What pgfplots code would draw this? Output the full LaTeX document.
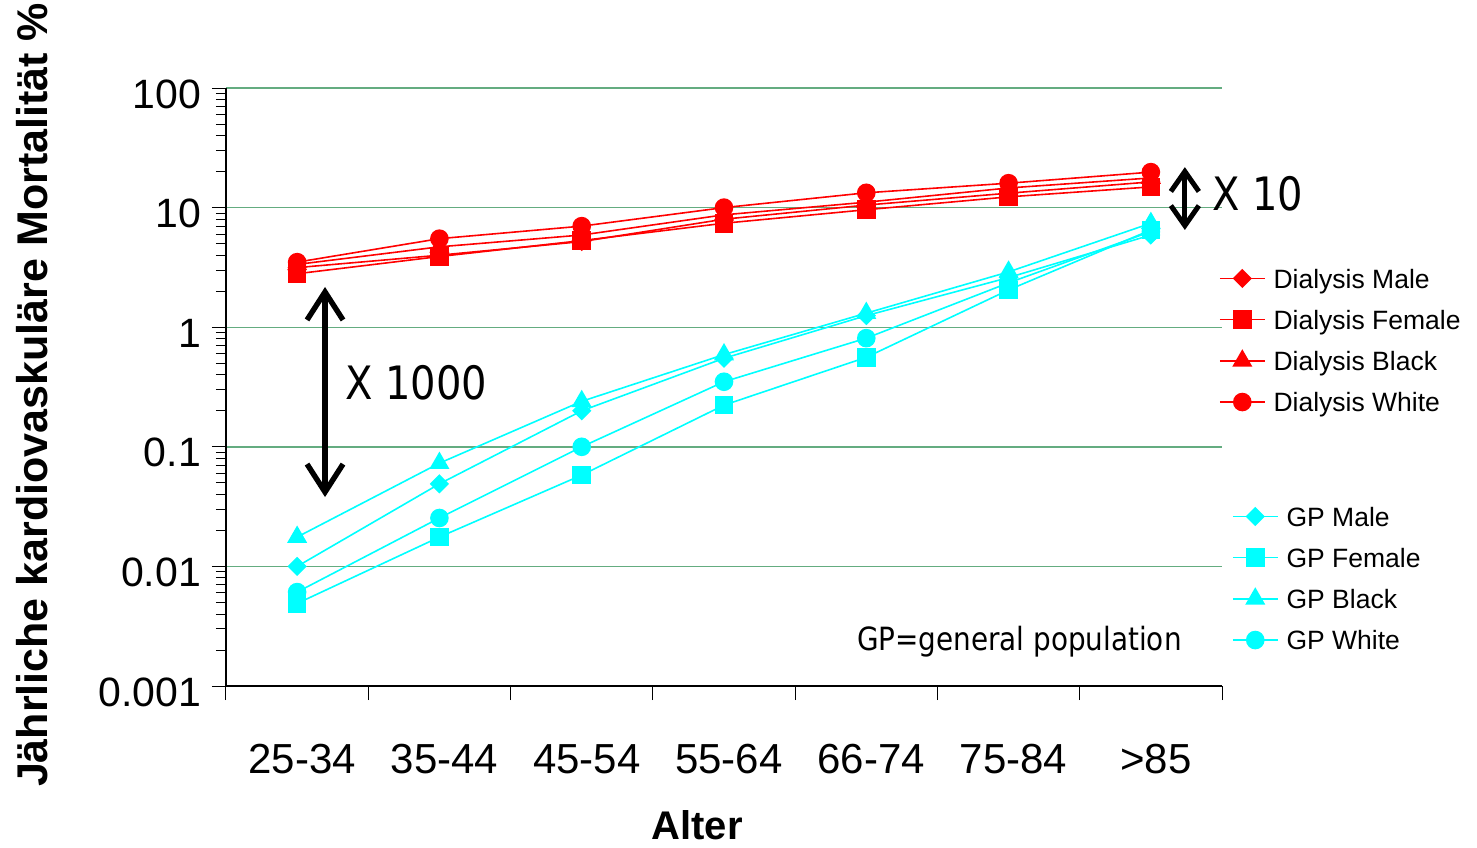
\documentclass[border=0pt]{standalone}
\usepackage{fontspec}
\setmainfont{Liberation Sans}
\newfontfamily\verd[FakeStretch=0.87]{DejaVu Sans}
\usepackage{pgfplots}
\pgfplotsset{compat=1.18}
\usetikzlibrary{arrows.meta}
\definecolor{dred}{RGB}{255,0,0}
\definecolor{gpc}{RGB}{0,255,255}
\definecolor{gridg}{RGB}{100,172,128}
\newcommand\ls{\rule[-4.2pt]{0pt}{15.3pt}}

\pgfplotstableread{
x DM DF DB DW GM GF GB GW
0 3.15 2.8 3.35 3.5 0.010 0.0049 0.0176 0.0061
1 4.0 3.9 4.7 5.5 0.049 0.0176 0.073 0.0254
2 5.2 5.3 5.9 7.0 0.20 0.058 0.24 0.10
3 8.0 7.4 8.7 10.0 0.55 0.223 0.59 0.35
4 10.5 9.6 11.1 13.3 1.25 0.56 1.31 0.81
5 13.2 12.3 14.6 16.0 2.6 2.05 2.9 2.35
6 16.4 14.9 17.7 19.8 5.9 6.5 7.4 6.3
}\data

\tikzset{
  myDialSty/.style={dred, line width=0.8pt, mark options={solid, fill=dred, draw=dred}},
  myGpSty/.style={gpc, line width=0.8pt, mark options={solid, fill=gpc, draw=gpc}},
}

\begin{document}
\begin{tikzpicture}
\begin{axis}[name=ax,
  scale only axis, width=498pt, height=299pt,
  ymode=log, ymin=0.001, ymax=100, xmin=-0.5, xmax=6.5,
  clip=false,
  legend image code/.code={
    \draw[mark repeat=2,mark phase=2] plot coordinates {(0pt,0pt) (11.25pt,0pt) (22.5pt,0pt)};
  },
  legend cell align=left,
  axis x line*=bottom, axis y line*=left,
  axis line style={black, line width=0.6pt},
  xtick={-0.5,0.5,1.5,2.5,3.5,4.5,5.5,6.5}, xticklabels={},
  extra x ticks={0,1,2,3,4,5,6},
  extra x tick labels={25-34,35-44,45-54,55-64,66-74,75-84,>85},
  extra x tick style={major tick length=0pt, grid=none},
  ytick={0.001,0.01,0.1,1,10,100},
  yticklabels={0.001,0.01,0.1,1,10,100},
  tick align=outside, major tick length=7pt, minor tick length=5pt,
  tick style={black, line width=0.5pt},
  ymajorgrids, major grid style={gridg, line width=0.7pt},
  tick label style={font=\fontsize{20.5}{24}\selectfont},
  xticklabel style={anchor=north, yshift=-25.7pt, xshift=2.5pt, font=\fontsize{21}{24}\selectfont},
  yticklabel style={yshift=-3pt, xshift=-2pt},
  legend style={draw=none, fill=none, inner sep=0pt, outer sep=0pt,
    font=\fontsize{13.25}{14}\selectfont,
    nodes={inner sep=4pt},
    at={(rel axis cs:0.997,0.716)}, anchor=north west},
]
\addplot[myDialSty, mark=square*, mark size=3pt, mark options={rotate=45}] table[x=x,y=DM]{\data};
\addlegendentry{\ls Dialysis Male}
\addplot[myDialSty, mark=square*, mark size=4.25pt] table[x=x,y=DF]{\data};
\addlegendentry{\ls Dialysis Female}
\addplot[myDialSty, mark=triangle*, mark size=5pt] table[x=x,y=DB]{\data};
\addlegendentry{\ls Dialysis Black}
\addplot[myDialSty, mark=*, mark size=4.25pt] table[x=x,y=DW]{\data};
\addlegendentry{\ls Dialysis White}
\addplot[myGpSty, mark=square*, mark size=3pt, mark options={rotate=45}, forget plot] table[x=x,y=GM]{\data};
\addplot[myGpSty, mark=square*, mark size=4.25pt, forget plot] table[x=x,y=GF]{\data};
\addplot[myGpSty, mark=triangle*, mark size=5pt, forget plot] table[x=x,y=GB]{\data};
\addplot[myGpSty, mark=*, mark size=4.25pt, forget plot] table[x=x,y=GW]{\data};

\draw[black, line width=2.7pt, line cap=round, {Straight Barb[length=14pt,width=18pt]}-{Straight Barb[length=14pt,width=18pt]}]
  (axis cs:0.196,2.17) -- (axis cs:0.196,0.038);
\node[anchor=base west, inner sep=0pt, font=\verd\fontsize{23}{26}\selectfont] at (axis cs:0.336,0.251) {X 1000};
\draw[black, line width=2.5pt, line cap=round, {Straight Barb[length=10pt,width=14pt]}-{Straight Barb[length=10pt,width=14pt]}]
  (axis cs:6.239,21.8) -- (axis cs:6.239,6.5);
\node[anchor=base west, inner sep=0pt, font=\verd\fontsize{23}{26}\selectfont] at (axis cs:6.429,9.37) {X 10};
\node[anchor=base, inner sep=0pt, font=\verd\fontsize{16}{18}\selectfont] at (axis cs:5.076,0.0020) {GP=general population};
\end{axis}
\begin{axis}[
  scale only axis, width=498pt, height=299pt,
  ymode=log, ymin=0.001, ymax=100, xmin=-0.5, xmax=6.5,
  hide axis,
  legend image code/.code={
    \draw[mark repeat=2,mark phase=2] plot coordinates {(0pt,0pt) (11.25pt,0pt) (22.5pt,0pt)};
  },
  legend cell align=left,
  legend style={draw=none, fill=none, inner sep=0pt, outer sep=0pt,
    font=\fontsize{13.25}{14}\selectfont,
    nodes={inner sep=4pt},
    at={(rel axis cs:1.010,0.318)}, anchor=north west},
]
\addlegendimage{myGpSty, mark=square*, mark size=3pt, mark options={rotate=45}}
\addlegendentry{\ls GP Male}
\addlegendimage{myGpSty, mark=square*, mark size=4.25pt}
\addlegendentry{\ls GP Female}
\addlegendimage{myGpSty, mark=triangle*, mark size=5pt}
\addlegendentry{\ls GP Black}
\addlegendimage{myGpSty, mark=*, mark size=4.25pt}
\addlegendentry{\ls GP White}
\end{axis}
\node[rotate=90, inner sep=0pt, font=\bfseries\fontsize{21.5}{24}\selectfont] at ([xshift=-97pt,yshift=145.5pt]ax.south west) {Jährliche kardiovaskuläre Mortalität \%};
\node[inner sep=0pt, font=\bfseries\fontsize{20}{24}\selectfont] at ([xshift=235.5pt,yshift=-69.5pt]ax.south west) {Alter};
\useasboundingbox ([xshift=-113pt,yshift=-80.5pt]ax.south west) rectangle ++(738.5pt,423.5pt);
\end{tikzpicture}
\end{document}
